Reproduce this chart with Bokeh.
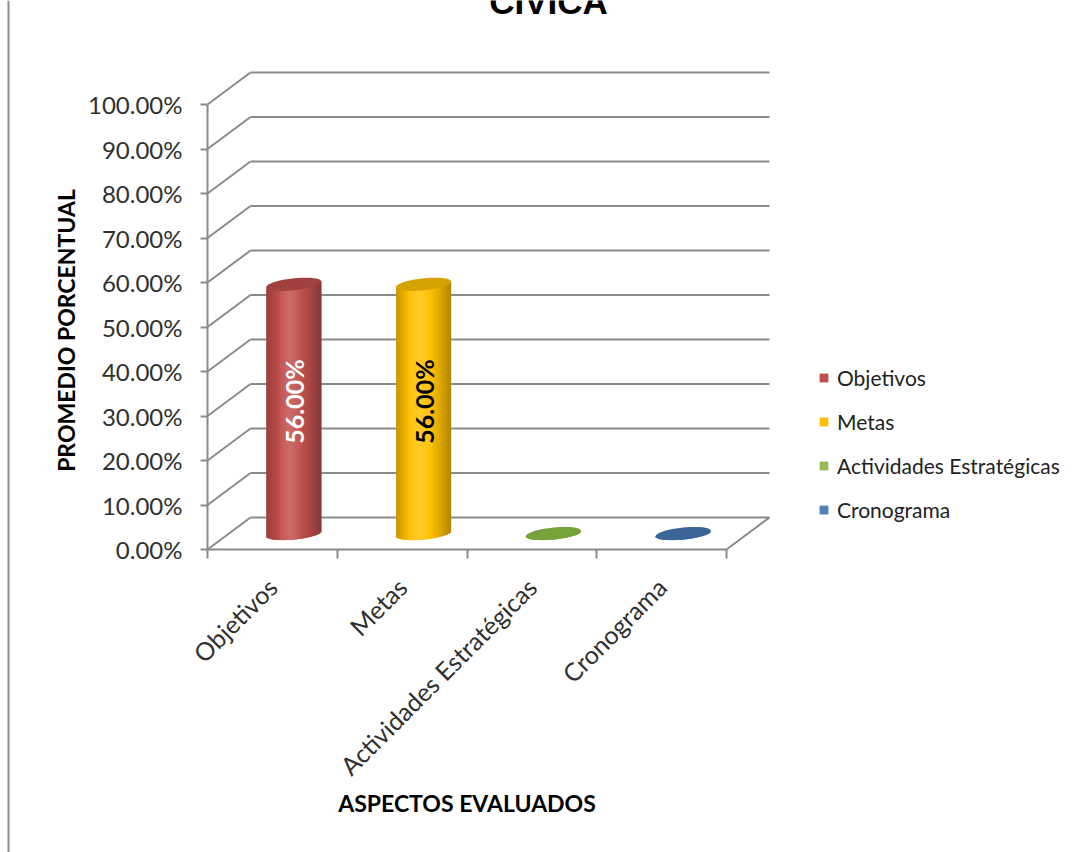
import numpy as np
from bokeh.plotting import figure
from bokeh.models import (Range1d, LinearAxis, FixedTicker, NumeralTickFormatter,
                          Span, Legend, LegendItem)
from bokeh.core.properties import value
from bokeh.embed import file_html
from bokeh.resources import INLINE

# ---- data -------------------------------------------------------------
TITLE = "CIVICA"
X_TITLE = "ASPECTOS EVALUADOS"
Y_TITLE = "PROMEDIO PORCENTUAL"
CATEGORIES = ["Objetivos", "Metas", "Actividades Estratégicas", "Cronograma"]
VALUES = [0.56, 0.56, 0.0, 0.0]
Y_TICKS = [0.0, 0.1, 0.2, 0.3, 0.4, 0.5, 0.6, 0.7, 0.8, 0.9, 1.0]

# ---- styles -----------------------------------------------------------
SERIES_COLORS = ["#c0504d", "#ffc000", "#9bbb59", "#4f81bd"]
CAP_COLORS = ["#a0413e", "#d6a200", "#76a23a", "#3b6597"]
LABEL_COLORS = ["#ffffff", "#000000", "#000000", "#000000"]
GRID = "#8a8a8a"
TEXT = "#303030"
FONT = value("Lato")

W, H = 1075, 852
X0_PX, Y0_PX = 207, 549        # canvas position of the front (0, 0%) corner
SX, SY = 129.75, 445.0         # pixels per category / pixels per 100 %
DX, DY = 43 / SX, 32 / SY      # depth of the 3-D box in data units

# cylinder shape (pixels)
A_PX, B_PX, TILT = 27.5, 6.0, 0.1
N_STRIPS = 28
OVERLAP_PX = 0.8


def hex_to_rgb(h):
    h = h.lstrip("#")
    return np.array([int(h[k:k + 2], 16) for k in (0, 2, 4)], dtype=float)


def shade(color, k):
    """k < 0 darkens towards black, k > 0 lightens towards white."""
    rgb = hex_to_rgb(color)
    rgb = rgb * (1 + k) if k < 0 else rgb + (255 - rgb) * k
    r, g, b = np.clip(np.round(rgb), 0, 255).astype(int)
    return f"#{r:02x}{g:02x}{b:02x}"


p = figure(width=W, height=H, output_backend="svg", toolbar_location=None,
           x_range=Range1d(-X0_PX / SX, (W - X0_PX) / SX),
           y_range=Range1d(-(H - Y0_PX) / SY, Y0_PX / SY),
           x_axis_type=None, y_axis_type=None, min_border=0,
           outline_line_color=None, background_fill_color="white",
           border_fill_color="white")
p.title.visible = False

n = len(CATEGORIES)

# left border of the sheet
p.add_layout(Span(location=(8 - X0_PX) / SX, dimension="height",
                  line_color="#8c8c8c", line_width=2))

# back wall gridlines and their side returns
ticks = np.array(Y_TICKS)
p.segment(x0=np.full_like(ticks, DX), y0=ticks + DY,
          x1=np.full_like(ticks, n + DX), y1=ticks + DY,
          line_color=GRID, line_width=2)
p.segment(x0=np.zeros_like(ticks), y0=ticks,
          x1=np.full_like(ticks, DX), y1=ticks + DY,
          line_color=GRID, line_width=2)
# right edge of the floor
p.segment(x0=[n], y0=[0], x1=[n + DX], y1=[DY], line_color=GRID, line_width=2)

# ---- cylinders ----------------------------------------------------------
edges = np.linspace(-A_PX, A_PX, N_STRIPS + 1)
mids = (edges[:-1] + edges[1:]) / 2
u = mids / A_PX
half = np.sqrt(np.clip(1 - u ** 2, 0, 1)) * B_PX
# lighting across the cylinder: bright a little left of centre, dark rims
light = 0.16 * np.clip(1 - np.abs(u + 0.15) / 0.5, 0, 1)
dark = -0.32 * np.clip((np.abs(u + 0.1) - 0.25) / 0.85, 0, 1) ** 1.4
shade_k = light + dark
right_edges = edges[1:] + OVERLAP_PX
right_edges[-1] = edges[-1]

t = np.linspace(0, 2 * np.pi, 90)
cap_u = A_PX * np.cos(t)
cap_v = cap_u * TILT + B_PX * np.sin(t)

legend_items = []
cap_xs, cap_ys = [], []
for i, (cat, v, col) in enumerate(zip(CATEGORIES, VALUES, SERIES_COLORS)):
    cx = i + 0.5 + DX / 2
    cy = DY / 2
    left = cx + edges[:-1] / SX
    right = cx + right_edges / SX
    bottom = cy + (mids * TILT - half) / SY
    top = cy + v + mids * TILT / SY
    body = p.quad(left=left, right=right, bottom=bottom, top=top,
                  fill_color=col, line_color=None)
    p.quad(left=left, right=right, bottom=bottom, top=top,
           fill_color=[shade(col, k) for k in shade_k], line_color=None)
    cap_xs.append(list(cx + cap_u / SX))
    cap_ys.append(list(cy + v + cap_v / SY))
    legend_items.append(LegendItem(label=cat, renderers=[body]))

p.patches(xs=cap_xs, ys=cap_ys, fill_color=CAP_COLORS, line_color=None)

# value labels inside the cylinders
lab_x, lab_y, lab_t, lab_c = [], [], [], []
for i, (v, c) in enumerate(zip(VALUES, LABEL_COLORS)):
    if v > 0:
        lab_x.append(i + 0.5 + DX / 2)
        lab_y.append(DY / 2 + v * 0.53)
        lab_t.append(f"{v * 100:.2f}%")
        lab_c.append(c)
p.text(x=lab_x, y=lab_y, text=lab_t, text_color=lab_c, angle=np.pi / 2,
       text_align="center", text_baseline="middle", text_font=FONT,
       text_font_style="bold", text_font_size="25px")

# ---- axes ----------------------------------------------------------------
yaxis = LinearAxis(fixed_location=0, bounds=(0, 1),
                   ticker=FixedTicker(ticks=Y_TICKS, minor_ticks=[]),
                   formatter=NumeralTickFormatter(format="0.00%"))
yaxis.axis_line_color = GRID
yaxis.axis_line_width = 2
yaxis.major_tick_line_color = GRID
yaxis.major_tick_line_width = 2
yaxis.major_tick_out = 7
yaxis.major_tick_in = 0
yaxis.minor_tick_line_color = None
yaxis.major_label_standoff = 18
yaxis.major_label_text_font = "Lato"
yaxis.major_label_text_font_size = "24px"
yaxis.major_label_text_color = TEXT
p.add_layout(yaxis, "left")

centers = [i + 0.5 for i in range(n)]
xaxis = LinearAxis(fixed_location=0, bounds=(0, n),
                   ticker=FixedTicker(ticks=centers, minor_ticks=list(range(n + 1))),
                   major_label_overrides={c: cat for c, cat in zip(centers, CATEGORIES)})
xaxis.axis_line_color = GRID
xaxis.axis_line_width = 2
xaxis.major_tick_line_color = None
xaxis.major_tick_out = 0
xaxis.major_tick_in = 0
xaxis.minor_tick_line_color = GRID
xaxis.minor_tick_line_width = 2
xaxis.minor_tick_out = 9
xaxis.minor_tick_in = 0
xaxis.major_label_orientation = np.pi / 4
xaxis.major_label_standoff = 24
xaxis.major_label_text_font = "Lato"
xaxis.major_label_text_font_size = "25px"
xaxis.major_label_text_color = TEXT
p.add_layout(xaxis, "below")

# titles (the chart title runs off the top edge of the sheet)
p.text(x=[(548 - X0_PX) / SX], y=[(Y0_PX - 1) / SY], text=[TITLE],
       text_align="center", text_baseline="alphabetic",
       text_font=value("Liberation Sans"), text_font_style="bold",
       text_font_size="35px", text_color="#000000")
p.text(x=[(65 - X0_PX) / SX], y=[(Y0_PX - 330) / SY], text=[Y_TITLE], angle=np.pi / 2,
       text_align="center", text_baseline="middle", text_font=FONT,
       text_font_style="bold", text_font_size="23px", text_color="#000000")
p.text(x=[n / 2], y=[(Y0_PX - 802) / SY], text=[X_TITLE],
       text_align="center", text_baseline="middle", text_font=FONT,
       text_font_style="bold", text_font_size="23px", text_color="#000000")

# ---- legend --------------------------------------------------------------
legend = Legend(items=legend_items, location=(818, 330), orientation="vertical",
                padding=6, margin=0, spacing=19, label_height=24,
                glyph_width=11, glyph_height=11, label_standoff=8,
                border_line_color=None, background_fill_alpha=0,
                label_text_font="Lato", label_text_font_size="21px",
                label_text_color="#222222")
p.add_layout(legend, "center")

open("out.html", "w").write(file_html(p, INLINE))
